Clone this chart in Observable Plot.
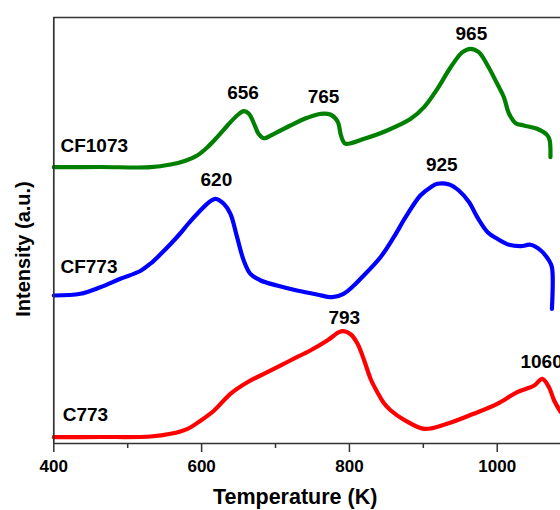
<!DOCTYPE html>
<html>
<head>
<meta charset="utf-8">
<script src="https://cdn.jsdelivr.net/npm/d3@7"></script>
<script src="https://cdn.jsdelivr.net/npm/@observablehq/plot@0.6"></script>
<style>
  html, body { margin: 0; padding: 0; background: #fff; overflow: hidden; }
</style>
</head>
<body>
<div id="chart"></div>
<script>
// ---- data (intensity in arbitrary, stacked units) ----
const seriesNames = ["CF1073", "CF773", "C773"];
const seriesColors = ["#008000", "#0000ff", "#ff0000"];

const cf1073T = [400,463,531,558,576,594,608,621,635,648,657,664,671,677,684,698,720,743,761,774,784,788,791,795,820,851,883,901,919,937,953,964,975,987,1000,1009,1016,1025,1036,1054,1068,1071,1072];
const cf1073I = [276.3,276.5,276.3,279,282.3,288,296.3,306.3,318,328,332.3,329.7,319.7,309.7,305.3,309.7,318,325.7,329.7,329,322,309.7,303,299.7,304.7,313,324.7,336.3,354.7,376.3,391.3,394.7,391.3,378,359.7,346.3,329.7,320.3,318,314.7,308,303,286.3];

const cf773T = [400,436,463,490,517,531,544,558,571,581,597,610,619,630,639,648,657,666,680,702,729,756,777,792,806,815,842,860,876,896,910,919,935,948,962,973,987,1000,1016,1032,1045,1059,1070,1074,1074];
const cf773I = [148,149.7,156.3,164.7,172.5,180,189,199.5,210,219,232,241.3,244.7,239.7,229.7,206.3,183,169.7,163,158,153,149,146.3,149.7,158,164.7,186.3,206.3,226.3,248,256.3,259.7,259,253,241.3,226.3,211.3,204.7,198.7,197.3,198.7,193,183,176.3,134.7];

const c773T = [400,463,531,558,581,599,617,639,662,689,720,747,770,786,792,802,811,820,829,838,846,856,874,901,932,968,1000,1027,1050,1061,1070,1077,1086];
const c773I = [6.3,6.5,7,9.7,14.7,23,33,49.7,61.3,71.3,83,93,103,111.3,112.3,109,99.7,83,64,51,41,33,23.7,14.7,19.7,29.7,39.7,51.3,58,64.7,56.3,43,31.3];

const peakTemps  = [656, 765, 965, 620, 925, 793, 1060];
const peakSeries = ["CF1073","CF1073","CF1073","CF773","CF773","C773","C773"];
const peakDy     = [-18, -17, -15, -19, -19, -13, -17];

const curveLabelT = [409, 409, 412];
const curveLabelI = [297.3, 176.3, 29];

const majorTicks = [400, 600, 800, 1000];
const minorTicks = [500, 700, 900];
const xTitle = "Temperature (K)";
const yTitle = "Intensity (a.u.)";

// ---- build tables ----
const seriesT = {"CF1073": cf1073T, "CF773": cf773T, "C773": c773T};
const seriesI = {"CF1073": cf1073I, "CF773": cf773I, "C773": c773I};
const rows = [];
seriesNames.forEach(s => seriesT[s].forEach((t, i) => rows.push({series: s, T: t, I: seriesI[s][i]})));

const peaks = peakTemps.map((t, i) => {
  const s = peakSeries[i];
  let best = -Infinity;
  seriesT[s].forEach((tt, j) => { if (Math.abs(tt - t) <= 12) best = Math.max(best, seriesI[s][j]); });
  return {series: s, T: t, I: best, label: String(t), dy: peakDy[i]};
});
const curveLabels = seriesNames.map((s, i) => ({series: s, T: curveLabelT[i], I: curveLabelI[i]}));

const font = "Liberation Sans, Arial, Helvetica, sans-serif";
const axisColor = "#333";

const chart = Plot.plot({
  width: 560,
  height: 510,
  marginLeft: 53.3,
  marginRight: 0,
  marginTop: 17,
  marginBottom: 67,
  style: {fontFamily: font, background: "#fff", color: "#000"},
  x: {domain: [400, 1085.6], label: null},
  y: {domain: [0, 426], axis: null},
  color: {domain: seriesNames, range: seriesColors},
  marks: [
    Plot.line(rows, {x: "T", y: "I", z: "series", stroke: "series", strokeWidth: 4.2, curve: "catmull-rom", strokeLinejoin: "round", strokeLinecap: "round"}),
    Plot.ruleY([0, 426], {stroke: axisColor, strokeWidth: 1.7}),
    Plot.ruleX([400], {stroke: axisColor, strokeWidth: 1.7}),
    Plot.axisX({ticks: majorTicks, tickSize: 9, tickPadding: 7, tickFormat: d => String(d), fontSize: 17, fontWeight: "bold", fontFamily: font, stroke: axisColor, strokeWidth: 1.5, label: null}),
    Plot.axisX({ticks: minorTicks, tickSize: 5, tickFormat: () => "", stroke: axisColor, strokeWidth: 1.5, label: null}),
    ...peaks.map(p => Plot.text([p], {x: "T", y: "I", text: "label", dy: p.dy, fontSize: 19, fontWeight: "bold", fontFamily: font, fill: "#000"})),
    Plot.text(curveLabels, {x: "T", y: "I", text: "series", textAnchor: "start", fontSize: 19, fontWeight: "bold", fontFamily: font, fill: "#000"}),
    Plot.text([xTitle], {frameAnchor: "bottom", textAnchor: "middle", lineAnchor: "middle", dx: -12, dy: 53.5, fontSize: 21.5, fontWeight: "bold", fontFamily: font, fill: "#000"}),
    Plot.text([yTitle], {frameAnchor: "left", textAnchor: "middle", lineAnchor: "middle", rotate: -90, dx: -30.3, dy: 18.5, fontSize: 20, fontWeight: "bold", fontFamily: font, fill: "#000"})
  ]
});
document.getElementById("chart").appendChild(chart);
</script>
</body>
</html>
